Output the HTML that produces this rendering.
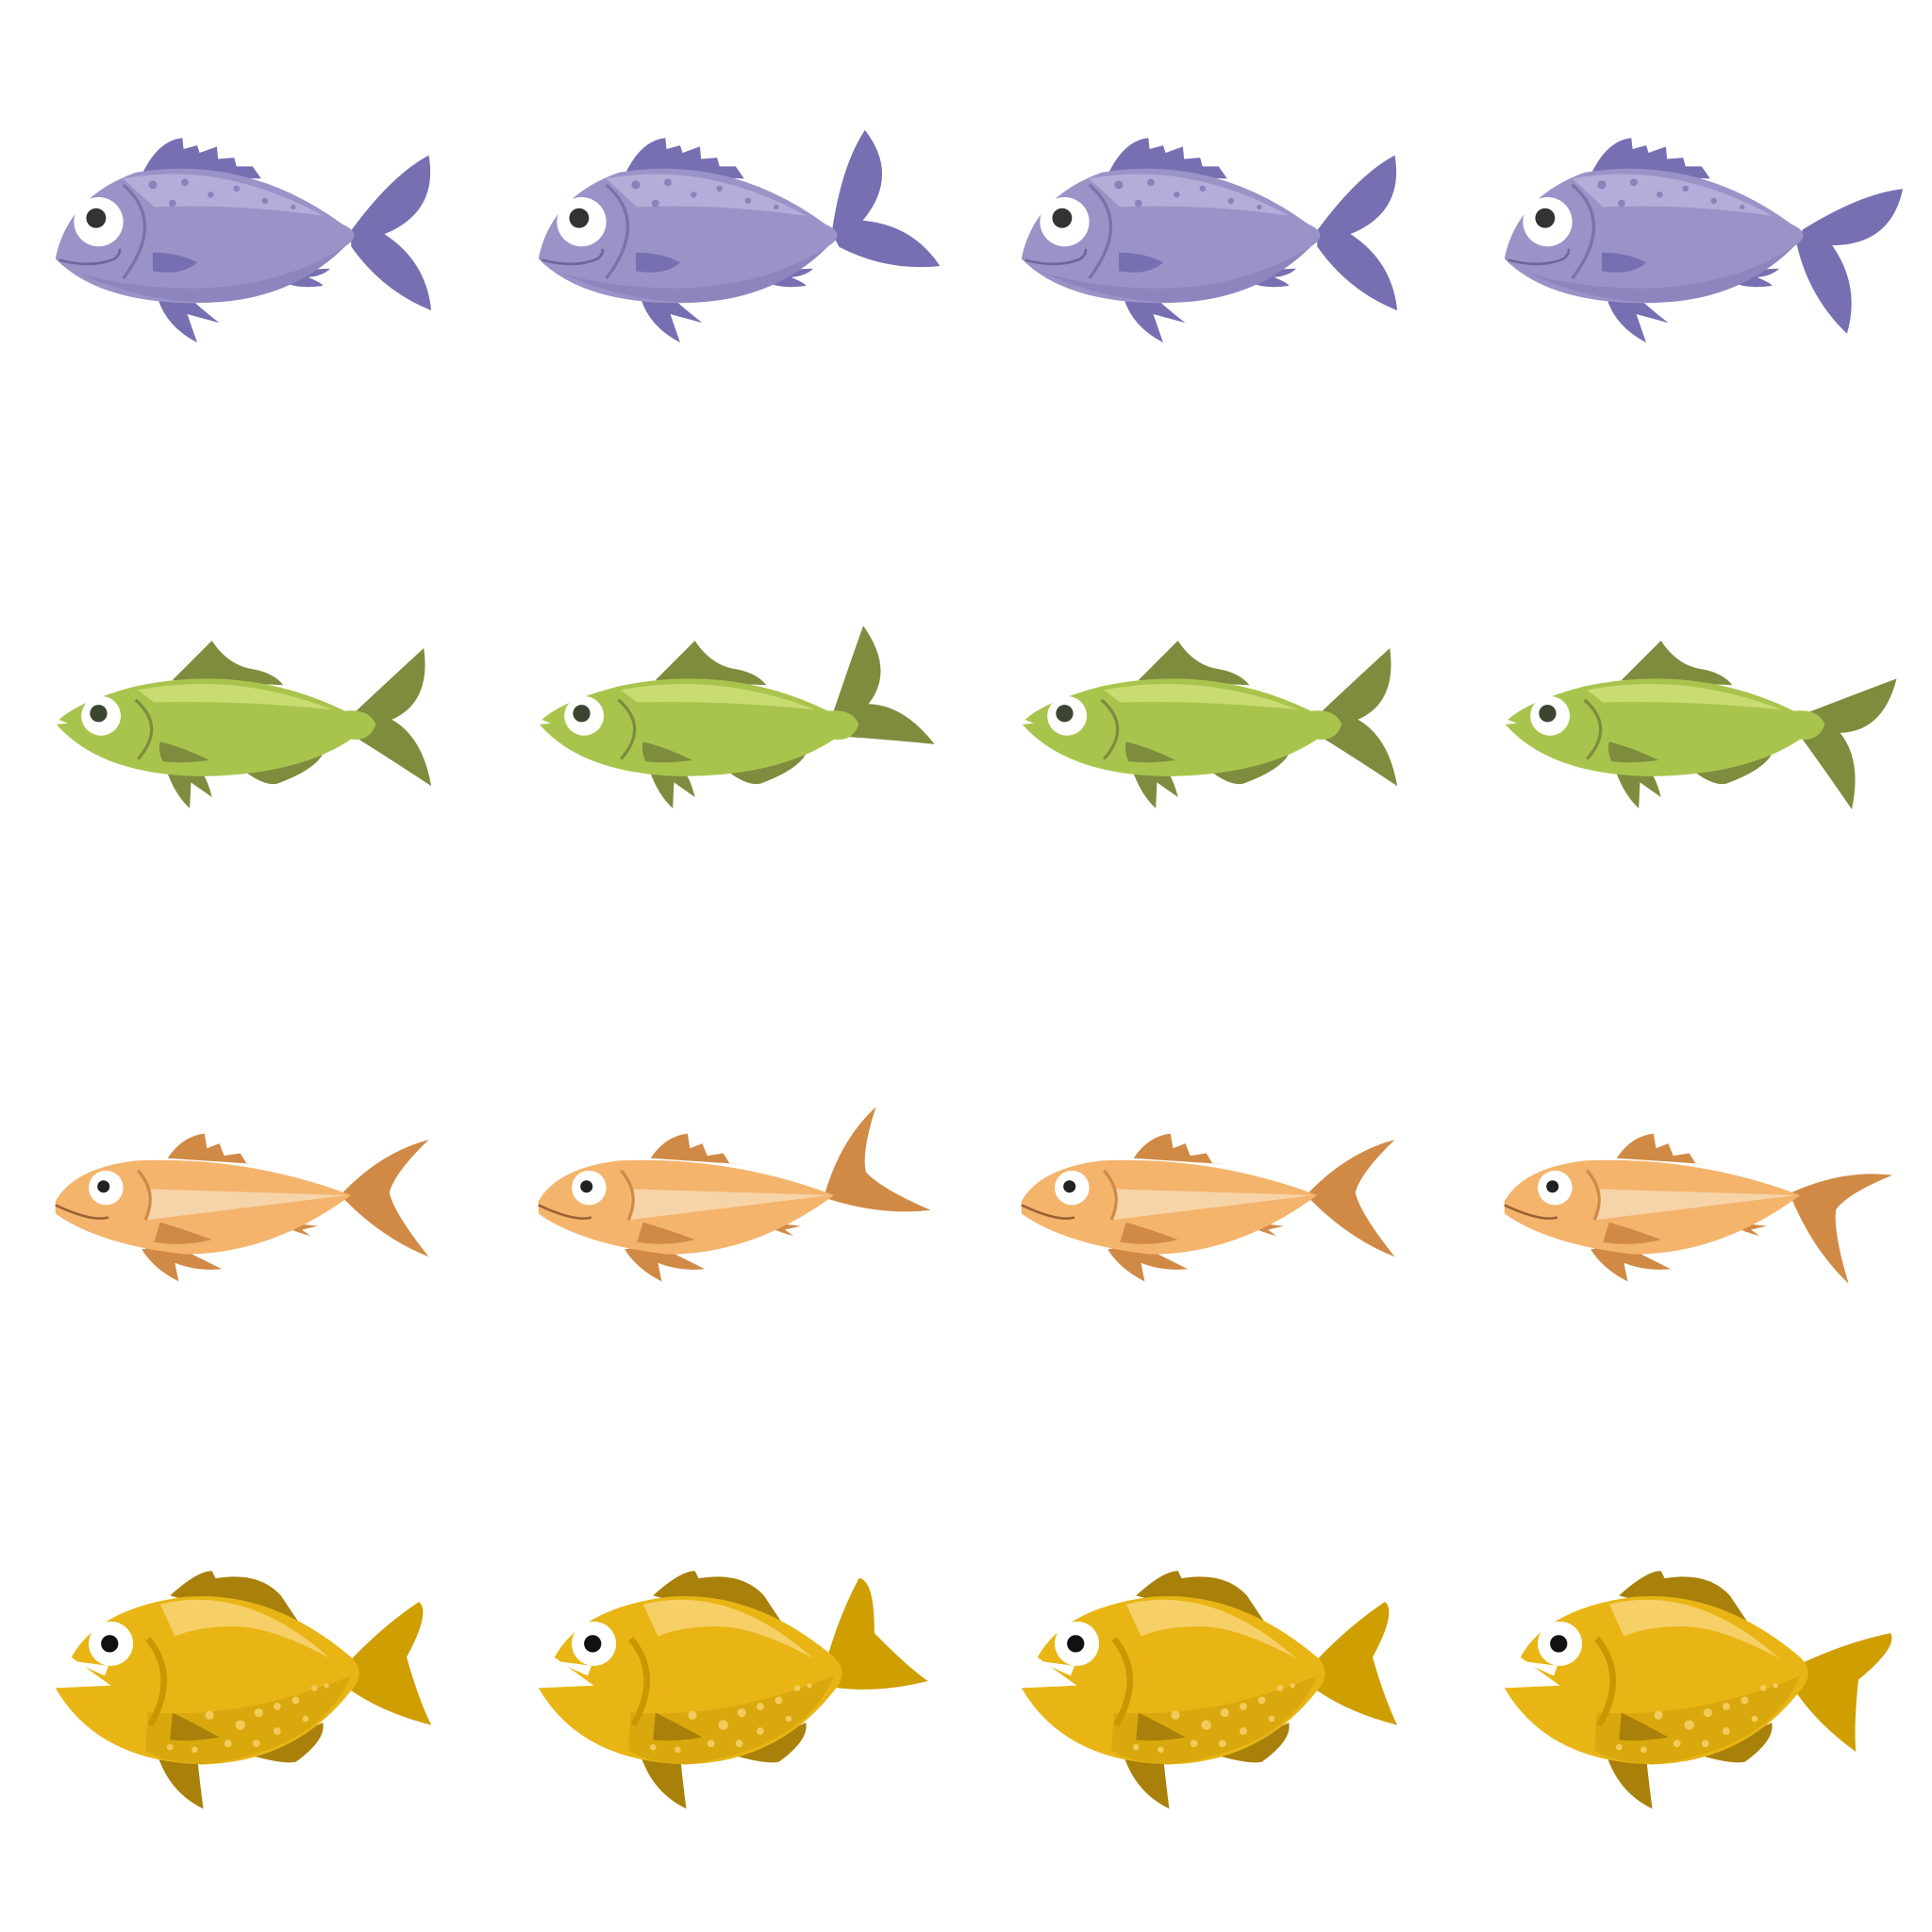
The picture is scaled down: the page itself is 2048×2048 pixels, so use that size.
<!DOCTYPE html>
<html><head><meta charset="utf-8"><style>
html,body{margin:0;padding:0;background:#fff;width:2048px;height:2048px;overflow:hidden}
svg{display:block}
</style></head><body>
<svg width="2048" height="2048" viewBox="0 0 1568 1568" xmlns="http://www.w3.org/2000/svg">
<defs>
<g id="purple-tail"><path d="M285,187 Q318,142 348,126 Q356,172 312,190 Q346,212 350,252 Q310,236 285,200 Z" fill="#7670b2"/></g>
<g id="purple-body">
<path d="M115,142 Q128,114 148,112 L149,121 L160,118 L162,124 L176,119 L177,129 L190,128 L192,135 L205,135 L212,145 Z" fill="#7670b2"/>
<path d="M128,242 Q135,265 160,278 L152,255 L178,262 Q160,248 150,238 Z" fill="#7670b2"/>
<path d="M228,224 Q250,218 268,218 Q262,224 250,225 Q262,230 262,232 Q240,235 228,228 Z" fill="#7670b2"/>
<path d="M45,210 Q55,160 110,140 Q200,125 278,182 Q296,190 280,200 Q235,245 160,246 Q80,246 45,210 Z" fill="#9a93c8"/>
<path d="M100,145 Q180,130 262,175 Q190,165 125,168 Z" fill="#b3aed9"/>
<path d="M60,220 Q120,248 180,245 Q240,240 280,200 Q230,232 160,234 Q100,234 60,220 Z" fill="#8d86be"/>
<g fill="#8a83bb"><circle cx="124" cy="150" r="3.5"/><circle cx="150" cy="148" r="3"/><circle cx="140" cy="165" r="3"/><circle cx="171" cy="158" r="2.5"/><circle cx="192" cy="153" r="2.5"/><circle cx="215" cy="163" r="2.5"/><circle cx="238" cy="168" r="2"/></g>
<path d="M100,150 Q135,180 100,226" stroke="#7a73a8" stroke-width="2.5" fill="none"/>
<path d="M124,205 Q145,205 160,213 Q148,224 124,220 Z" fill="#7670b2"/>
<circle cx="80" cy="180" r="20" fill="#fff"/><circle cx="78" cy="177" r="8" fill="#333"/>
<path d="M48,211 Q75,218 93,210 Q98,206 97,202" stroke="#6d6699" stroke-width="2" fill="none"/>
</g>
<g id="green-tail"><path d="M288,578 Q320,548 344,526 Q350,570 318,584 Q343,598 350,638 Q320,618 288,598 Z" fill="#7e8c3e"/></g>
<g id="green-body">
<path d="M140,552 Q160,532 172,520 Q185,540 205,543 Q222,546 230,556 Z" fill="#7e8c3e"/>
<path d="M135,625 Q142,645 154,656 L155,635 L172,647 Q168,630 160,622 Z" fill="#7e8c3e"/>
<path d="M200,627 Q215,638 225,636 Q255,625 262,612 Z" fill="#7e8c3e"/>
<path d="M45,587 Q60,570 110,557 Q200,538 280,577 Q300,575 305,588 Q300,602 285,600 Q240,630 160,630 Q80,628 45,587 Z" fill="#a9c44d"/>
<path d="M112,560 Q190,545 270,576 Q190,568 125,570 Z" fill="#c8dc72"/>
<path d="M45,583 L55,587 L45,588 Z" fill="#fff"/>
<path d="M110,568 Q135,590 112,616" stroke="#7e8c3e" stroke-width="2.5" fill="none"/>
<path d="M130,602 Q150,607 170,617 Q148,620 132,618 Q128,610 130,602 Z" fill="#7e8c3e"/>
<circle cx="82" cy="581" r="16" fill="#fff"/><circle cx="80" cy="579" r="7" fill="#3b4530"/>
</g>
<g id="orange-tail"><path d="M278,968 Q310,935 348,925 Q320,952 316,968 Q320,985 348,1020 Q310,1005 278,972 Z" fill="#d08a45"/></g>
<g id="orange-body">
<path d="M136,940 Q148,922 166,920 L168,932 L178,928 L182,938 L195,936 L200,944 L212,945 Z" fill="#d08a45"/>
<path d="M115,1014 Q125,1030 145,1040 L142,1025 Q160,1032 180,1030 Q160,1020 140,1010 Z" fill="#d08a45"/>
<path d="M230,992 L258,995 L245,998 L252,1003 Q240,1000 230,995 Z" fill="#d08a45"/>
<path d="M45,975 Q60,948 110,942 Q200,938 285,970 Q220,1018 150,1018 Q80,1010 45,985 Z" fill="#f4b46c"/>
<path d="M120,965 L282,970 L120,990 Z" fill="#f7d3a8"/>
<path d="M45,978 Q75,992 88,988" stroke="#9a6233" stroke-width="2" fill="none"/>
<path d="M112,950 Q128,968 118,990" stroke="#d08a45" stroke-width="2.5" fill="none"/>
<path d="M130,992 Q150,998 172,1006 Q150,1012 125,1008 Z" fill="#d08a45"/>
<circle cx="86" cy="964" r="14" fill="#fff"/><circle cx="84" cy="963" r="5" fill="#222"/>
</g>
<g id="yellow-tail"><path d="M282,1350 Q310,1320 340,1300 Q350,1308 330,1345 Q340,1380 350,1400 Q310,1390 282,1370 Z" fill="#cf9e00"/></g>
<g id="yellow-body">
<path d="M138,1295 Q160,1275 172,1275 L175,1281 Q210,1275 228,1295 L248,1325 Z" fill="#a8800a"/>
<path d="M128,1425 Q138,1455 165,1468 Q162,1445 160,1425 Z" fill="#a8800a"/>
<path d="M205,1425 Q230,1432 240,1430 Q265,1412 262,1398 Z" fill="#a8800a"/>
<path d="M58,1345 Q80,1305 150,1296 Q220,1290 285,1345 Q298,1358 285,1372 Q240,1430 165,1432 Q80,1430 45,1370 L90,1368 Z" fill="#e8b515"/>
<path d="M130,1302 Q200,1285 268,1346 Q220,1320 190,1320 Q160,1320 142,1328 Z" fill="#f6cf66"/>
<path d="M120,1390 Q200,1395 285,1360 Q260,1420 165,1432 Q130,1430 118,1420 Z" fill="#d9a80d"/>
<g fill="#f3cb5c"><circle cx="170" cy="1392" r="3.5"/><circle cx="195" cy="1400" r="4"/><circle cx="210" cy="1390" r="3.5"/><circle cx="225" cy="1385" r="3"/><circle cx="240" cy="1380" r="3"/><circle cx="255" cy="1370" r="2.5"/><circle cx="185" cy="1415" r="3"/><circle cx="208" cy="1415" r="3"/><circle cx="225" cy="1405" r="3"/><circle cx="248" cy="1395" r="2.5"/><circle cx="265" cy="1368" r="2"/><circle cx="138" cy="1418" r="2.5"/><circle cx="158" cy="1420" r="2.5"/></g>
<path d="M120,1330 Q145,1360 122,1400" stroke="#c99800" stroke-width="5" fill="none"/>
<path d="M140,1390 Q160,1400 178,1410 Q155,1414 138,1412 Z" fill="#a8800a"/>
<circle cx="90" cy="1334" r="18" fill="#fff"/><circle cx="89" cy="1334" r="7" fill="#111"/>
<path d="M58,1348 L85,1360 L88,1352 Z" fill="#fff"/>
</g>
</defs>
<g id="fishes"></g>
<script>
const rows = ['purple','green','orange','yellow'];
const tailBase = [[288,192],[290,588],[280,970],[284,1360]];
const tailAngles = [0,-28,0,22];
const g = document.getElementById('fishes');
const NS = 'http://www.w3.org/2000/svg';
rows.forEach((r,ri)=>{
  tailAngles.forEach((a,ci)=>{
    const f = document.createElementNS(NS,'g');
    
    
    f.setAttribute('transform','translate('+(ci*392)+',0)');
    const t = document.createElementNS(NS,'use');
    t.setAttribute('href','#'+r+'-tail');
    t.setAttribute('transform','rotate('+a+' '+tailBase[ri][0]+' '+tailBase[ri][1]+')');
    const b = document.createElementNS(NS,'use');
    b.setAttribute('href','#'+r+'-body');
    f.appendChild(t); f.appendChild(b);
    g.appendChild(f);
  });
});
</script>
</svg>
</body></html>
